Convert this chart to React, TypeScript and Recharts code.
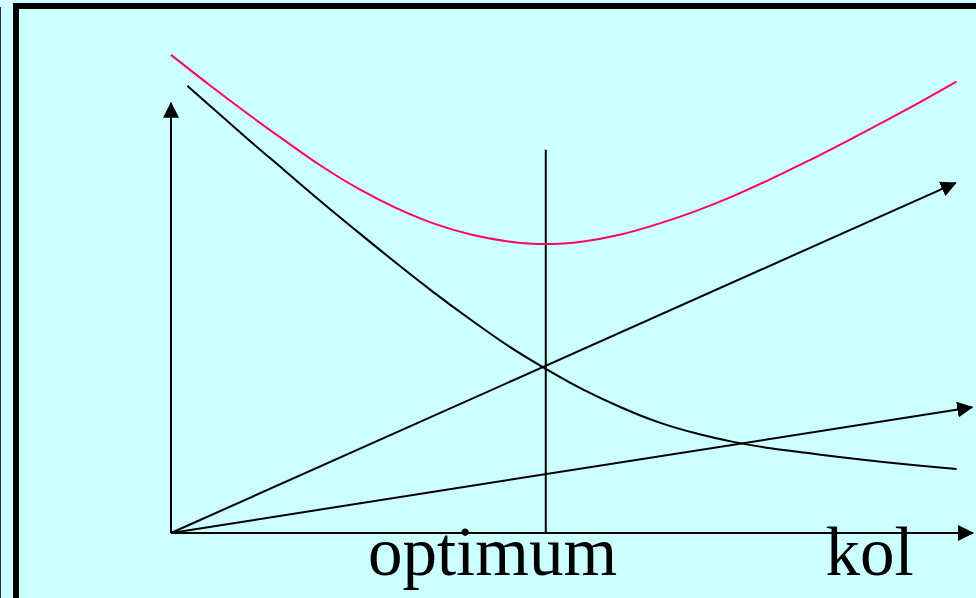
import { ComposedChart, Line, XAxis, YAxis, ReferenceLine } from 'recharts';

// quantity on x (optimum at 5), cost on y
const X_MAX = 10.7;
const Y_MAX = 10;
const OPTIMUM = 5;
const OPTIMUM_TOP = 7.19;

const totalCost = [
  { x: 0, y: 8.97 },
  { x: 0.5, y: 8.42 },
  { x: 1.0, y: 7.89 },
  { x: 1.5, y: 7.38 },
  { x: 2.0, y: 6.89 },
  { x: 2.5, y: 6.46 },
  { x: 3.0, y: 6.1 },
  { x: 3.5, y: 5.81 },
  { x: 4.0, y: 5.6 },
  { x: 4.5, y: 5.47 },
  { x: 5.0, y: 5.42 },
  { x: 5.5, y: 5.47 },
  { x: 6.0, y: 5.6 },
  { x: 6.5, y: 5.8 },
  { x: 7.0, y: 6.04 },
  { x: 7.5, y: 6.32 },
  { x: 8.0, y: 6.64 },
  { x: 8.5, y: 6.98 },
  { x: 9.0, y: 7.34 },
  { x: 9.5, y: 7.71 },
  { x: 10.0, y: 8.09 },
  { x: 10.48, y: 8.47 },
];

const fallingCost = [
  { x: 0.22, y: 8.39 },
  { x: 0.5, y: 8.04 },
  { x: 1.0, y: 7.42 },
  { x: 1.5, y: 6.82 },
  { x: 2.0, y: 6.22 },
  { x: 2.5, y: 5.64 },
  { x: 3.0, y: 5.07 },
  { x: 3.5, y: 4.52 },
  { x: 4.0, y: 4.0 },
  { x: 4.5, y: 3.51 },
  { x: 5.0, y: 3.08 },
  { x: 5.5, y: 2.69 },
  { x: 6.0, y: 2.36 },
  { x: 6.5, y: 2.08 },
  { x: 7.0, y: 1.87 },
  { x: 7.5, y: 1.71 },
  { x: 8.0, y: 1.59 },
  { x: 8.5, y: 1.5 },
  { x: 9.0, y: 1.41 },
  { x: 9.5, y: 1.33 },
  { x: 10.0, y: 1.26 },
  { x: 10.48, y: 1.2 },
];

const steepCost = [
  { x: 0, y: 0 },
  { x: 10.47, y: 6.57 },
];

const flatCost = [
  { x: 0, y: 0 },
  { x: 10.69, y: 2.36 },
];

const yAxisLine = [
  { x: 0, y: 0 },
  { x: 0, y: 8.07 },
];

const labelTicks = [4.29, 9.32];
const labelTexts = ['optimum', 'kol'];

const serif = '"Liberation Serif", "Times New Roman", serif';

const LabelTick = ({ x, y, index }: any) => (
  <text x={x} y={y} dy={42} textAnchor="middle" fontFamily={serif} fontSize={69} fill="#000">
    {labelTexts[index]}
  </text>
);

export default function App() {
  return (
    <div
      style={{
        position: 'fixed',
        left: 0,
        top: 0,
        width: 976,
        height: 598,
        background: '#ccffff',
        overflow: 'hidden',
      }}
    >
      <div style={{ position: 'absolute', left: 0, top: 7, bottom: 0, width: 1, background: '#333' }} />
      <div
        style={{
          position: 'absolute',
          left: 13,
          top: 3,
          right: -10,
          bottom: -10,
          borderLeft: '6px solid #000',
          borderTop: '6px solid #000',
        }}
      />
      <div style={{ position: 'absolute', left: 0, top: 0 }}>
        <ComposedChart width={976} height={598} margin={{ top: 0, right: 3, bottom: 0, left: 171 }}>
          <defs>
            <marker
              id="arrow"
              markerUnits="userSpaceOnUse"
              markerWidth={16}
              markerHeight={16}
              refX={15}
              refY={8}
              orient="auto"
            >
              <path d="M0,0 L16,8 L0,16 Z" fill="#000" />
            </marker>
          </defs>
          <XAxis
            type="number"
            dataKey="x"
            domain={[0, X_MAX]}
            ticks={labelTicks}
            height={65}
            tickSize={0}
            tickMargin={0}
            tickLine={false}
            axisLine={{ stroke: '#000', strokeWidth: 2, markerEnd: 'url(#arrow)' }}
            tick={<LabelTick />}
            interval={0}
          />
          <YAxis type="number" dataKey="y" domain={[0, Y_MAX]} hide />
          <ReferenceLine
            segment={[
              { x: OPTIMUM, y: 0 },
              { x: OPTIMUM, y: OPTIMUM_TOP },
            ]}
            stroke="#000"
            strokeWidth={2}
          />
          <Line data={yAxisLine} dataKey="y" type="linear" stroke="#000" strokeWidth={2} dot={false} activeDot={false} markerEnd="url(#arrow)" isAnimationActive={false} />
          <Line data={steepCost} dataKey="y" type="linear" stroke="#000" strokeWidth={2} dot={false} activeDot={false} markerEnd="url(#arrow)" isAnimationActive={false} />
          <Line data={flatCost} dataKey="y" type="linear" stroke="#000" strokeWidth={2} dot={false} activeDot={false} markerEnd="url(#arrow)" isAnimationActive={false} />
          <Line data={fallingCost} dataKey="y" type="monotoneX" stroke="#000" strokeWidth={2} dot={false} activeDot={false} isAnimationActive={false} />
          <Line data={totalCost} dataKey="y" type="monotoneX" stroke="#ff0066" strokeWidth={2} dot={false} activeDot={false} isAnimationActive={false} />
        </ComposedChart>
      </div>
    </div>
  );
}
